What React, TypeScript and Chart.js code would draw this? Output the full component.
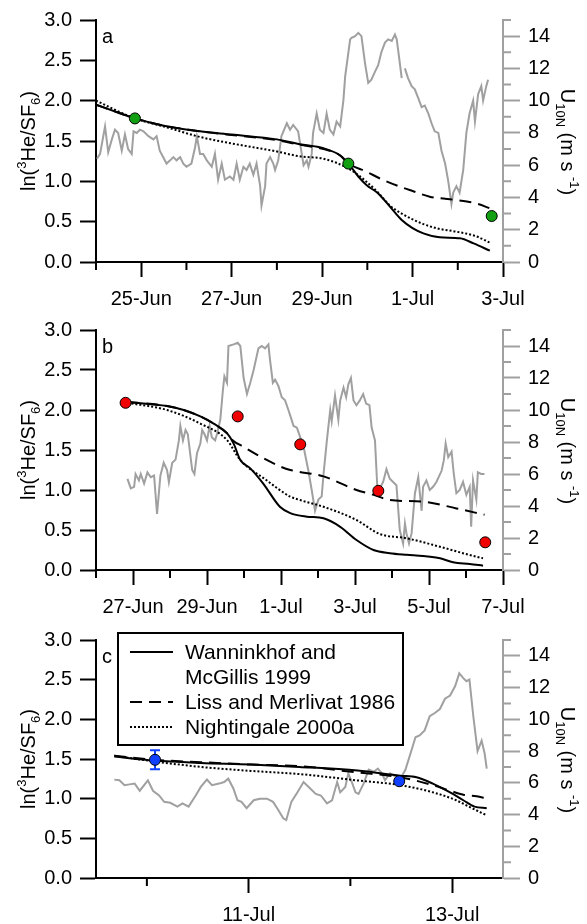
import React, { useEffect, useRef } from 'react';
import { Chart, registerables } from 'chart.js';
Chart.register(...registerables);

const FONT = '"Liberation Sans", Arial, Helvetica, sans-serif';
const WIND_COLOR = '#a0a0a0';

// ---------- shared axis values ----------
const leftTickVals = [0, 0.5, 1, 1.5, 2, 2.5, 3];
const rightTickVals = [0, 2, 4, 6, 8, 10, 12, 14];
const rightMinorVals = [1, 3, 5, 7, 9, 11, 13, 15];
const legendLabels = ['Wanninkhof and', 'McGillis 1999', 'Liss and Merlivat 1986', 'Nightingale 2000a'];

// x values are days counted from 0-Jun (1-Jul = 31, 10-Jul = 40)
// ---------- panel a ----------
const aTickDays = [25, 27, 29, 31, 33];
const aTickLabels = ['25-Jun', '27-Jun', '29-Jun', '1-Jul', '3-Jul'];
const aMinorDays = [24, 26, 28, 30, 32];
const aWindDay = [24.02, 24.09, 24.2, 24.27, 24.35, 24.42, 24.49, 24.57, 24.64, 24.71, 24.79, 24.83, 24.9, 24.97, 25.05, 25.16, 25.27, 25.34, 25.41, 25.56, 25.64, 25.71, 25.78, 25.86, 25.93, 26.0, 26.11, 26.19, 26.23, 26.3, 26.37, 26.45, 26.56, 26.63, 26.7, 26.78, 26.85, 26.96, 27.04, 27.11, 27.18, 27.26, 27.33, 27.4, 27.48, 27.55, 27.63, 27.66, 27.74, 27.77, 27.85, 27.92, 27.96, 28.03, 28.1, 28.22, 28.29, 28.36, 28.47, 28.55, 28.59, 28.66, 28.7, 28.77, 28.8, 28.88, 28.95, 29.03, 29.1, 29.17, 29.25, 29.32, 29.4, 29.47, 29.51, 29.62, 29.65, 29.73, 29.8, 29.87, 29.95, 30.02, 30.09, 30.17, 30.24, 30.31, 30.39, 30.46, 30.54, 30.61, 30.65, 30.72, 30.76, 30.8, 30.83, 30.9, 30.98, 31.05, 31.12, 31.2, 31.27, 31.35, 31.42, 31.49, 31.57, 31.64, 31.72, 31.79, 31.86, 31.9, 31.97, 32.04, 32.12, 32.19, 32.26, 32.34, 32.38, 32.45, 32.52, 32.56, 32.63, 32.67];
const aWindSpeed = [6.4, 6.7, 8.4, 6.8, 7.6, 8.2, 8.0, 6.9, 7.9, 7.0, 6.7, 8.1, 8.0, 8.2, 8.1, 7.8, 7.6, 7.8, 6.9, 6.1, 6.3, 6.5, 6.3, 6.5, 6.1, 5.9, 6.1, 7.1, 7.8, 6.7, 6.7, 6.3, 5.9, 6.7, 5.1, 6.1, 5.1, 5.3, 5.1, 6.1, 5.1, 5.9, 5.7, 6.1, 5.4, 6.1, 4.7, 3.5, 4.7, 6.1, 6.5, 6.1, 5.7, 6.3, 7.8, 8.6, 8.2, 8.5, 8.1, 6.7, 6.0, 6.3, 5.9, 6.7, 8.0, 9.2, 8.2, 8.0, 9.2, 8.2, 7.9, 8.7, 8.4, 10.0, 11.5, 13.8, 13.9, 14.0, 14.2, 14.0, 12.3, 11.1, 11.3, 11.8, 12.2, 13.0, 13.6, 13.8, 13.7, 14.1, 13.8, 12.3, 11.4, null, 12.0, 11.4, 10.9, 10.7, 10.2, 9.6, 9.7, 9.2, 8.6, 8.1, 8.0, 6.9, 6.1, 5.0, 3.6, 4.3, 4.7, 4.3, 5.7, 8.0, 9.2, 10.0, 8.7, 10.4, 10.9, 10.0, 10.9, 11.3];
const aWmDay = [24.0, 24.5, 24.86, 25.5, 26.3, 27.0, 28.0, 28.5, 29.03, 29.4, 29.58, 29.8, 29.98, 30.24, 30.5, 30.76, 31.0, 31.24, 31.6, 32.05, 32.35, 32.71];
const aWmVal = [1.95, 1.85, 1.78, 1.69, 1.62, 1.58, 1.52, 1.46, 1.41, 1.32, 1.22, 1.06, 0.955, 0.85, 0.686, 0.52, 0.42, 0.355, 0.306, 0.293, 0.23, 0.14];
const aLmDay = [24.0, 24.5, 24.86, 25.5, 26.3, 27.0, 28.0, 28.5, 29.03, 29.4, 29.58, 29.98, 30.3, 30.72, 31.0, 31.38, 31.83, 32.2, 32.45, 32.71];
const aLmVal = [1.95, 1.85, 1.78, 1.69, 1.62, 1.575, 1.51, 1.455, 1.40, 1.32, 1.22, 1.12, 1.03, 0.934, 0.88, 0.81, 0.777, 0.75, 0.72, 0.665];
const aNgDay = [24.0, 24.86, 25.5, 26.3, 27.0, 28.0, 28.5, 29.03, 29.58, 29.98, 30.24, 30.5, 30.76, 31.24, 31.6, 31.97, 32.4, 32.71];
const aNgVal = [2.0, 1.78, 1.68, 1.55, 1.47, 1.37, 1.31, 1.28, 1.16, 0.996, 0.86, 0.7, 0.6, 0.47, 0.41, 0.376, 0.32, 0.24];
const aPtDay = [24.86, 29.58, 32.75];
const aPtVal = [1.78, 1.22, 0.57];

// ---------- panel b ----------
const bTickDays = [27, 29, 31, 33, 35, 37];
const bTickLabels = ['27-Jun', '29-Jun', '1-Jul', '3-Jul', '5-Jul', '7-Jul'];
const bMinorDays = [26, 28, 30, 32, 34, 36];
const bWindDay = [26.85, 26.94, 27.03, 27.07, 27.16, 27.21, 27.3, 27.39, 27.48, 27.57, 27.65, 27.74, 27.83, 27.92, 27.97, 28.06, 28.15, 28.24, 28.28, 28.35, 28.42, 28.48, 28.6, 28.66, 28.73, 28.82, 28.87, 28.93, 29.0, 29.07, 29.13, 29.22, 29.27, 29.36, 29.43, 29.47, 29.54, 29.58, 29.72, 29.83, 29.9, 29.99, 30.08, 30.17, 30.26, 30.39, 30.48, 30.57, 30.66, 30.7, 30.78, 30.84, 30.93, 31.02, 31.11, 31.2, 31.25, 31.34, 31.43, 31.61, 31.74, 31.83, 31.92, 32.01, 32.1, 32.15, 32.24, 32.33, 32.37, 32.46, 32.55, 32.6, 32.69, 32.76, 32.82, 32.89, 32.96, 33.04, 33.13, 33.22, 33.3, 33.39, 33.45, 33.54, 33.6, 33.67, 33.76, 33.85, 33.94, 34.03, 34.12, 34.21, 34.3, 34.35, 34.39, 34.46, 34.53, 34.62, 34.71, 34.8, 34.84, 34.93, 35.02, 35.11, 35.2, 35.34, 35.4, 35.45, 35.52, 35.61, 35.67, 35.74, 35.83, 35.92, 36.01, 36.1, 36.14, 36.19, 36.28, 36.32, 36.41, 36.5];
const bWindSpeed = [5.7, 5.1, 5.2, 6.0, 5.6, 6.0, 5.4, 6.1, 5.8, 5.9, 3.5, 5.9, 6.7, 6.25, 5.5, 6.7, 6.9, 8.1, 9.0, 8.1, 8.75, 8.5, 6.25, 6.0, 7.3, 7.9, 8.75, 8.5, 8.1, 9.0, 8.3, 8.1, 8.5, 9.4, 11.25, 12.1, 11.7, 14.0, 14.1, 14.2, 14.0, 12.0, 11.0, 11.7, 12.5, 13.85, 14.0, 13.85, 14.1, 13.2, 11.7, 11.9, 11.5, 10.8, 10.6, 10.0, 9.65, 9.0, 8.9, 7.7, 6.2, 5.0, 3.7, 4.4, 4.6, 6.0, 8.1, 10.0, 9.3, 10.9, 9.4, 10.6, 11.4, 10.8, 11.6, 12.0, 10.6, 10.3, 10.6, 11.0, 10.4, 10.3, 8.9, 8.1, 5.3, 5.1, 5.5, 6.3, 5.7, 5.5, 5.3, 2.5, 1.66, 2.9, 2.3, 1.66, 2.3, 4.8, 5.8, 3.7, 5.2, 5.6, 5.0, 5.2, 5.5, 6.2, 6.85, 7.9, 7.05, 7.4, 6.0, 4.8, 5.0, 5.5, 4.7, 5.2, 2.7, 5.6, 4.4, 6.1, 6.0, 6.0];
const bWmDay = [26.85, 27.92, 28.37, 28.82, 29.18, 29.54, 29.72, 29.9, 30.17, 30.52, 30.97, 31.25, 31.7, 32.15, 32.6, 33.04, 33.5, 33.94, 34.4, 34.84, 35.3, 35.65, 36.1, 36.46];
const bWmVal = [2.10, 2.05, 2.0, 1.92, 1.83, 1.71, 1.58, 1.375, 1.27, 1.08, 0.79, 0.71, 0.667, 0.646, 0.54, 0.375, 0.25, 0.21, 0.19, 0.175, 0.146, 0.096, 0.075, 0.054];
const bLmDay = [26.85, 27.92, 28.37, 28.82, 29.18, 29.54, 29.7, 29.99, 30.43, 31.0, 31.25, 32.15, 33.04, 33.5, 33.94, 34.84, 35.74, 36.5];
const bLmVal = [2.10, 2.05, 2.0, 1.92, 1.83, 1.71, 1.62, 1.54, 1.42, 1.29, 1.25, 1.17, 1.0, 0.94, 0.875, 0.854, 0.77, 0.69];
const bNgDay = [26.85, 27.92, 28.82, 29.54, 29.9, 30.6, 31.25, 31.51, 32.15, 33.04, 33.67, 34.4, 35.3, 36.0, 36.46];
const bNgVal = [2.09, 2.0, 1.83, 1.625, 1.375, 1.125, 0.917, 0.875, 0.79, 0.625, 0.45, 0.396, 0.29, 0.2, 0.146];
const bPtDay = [26.8, 29.83, 31.52, 33.63, 36.52];
const bPtVal = [2.09, 1.92, 1.57, 0.99, 0.346];

// ---------- panel c ----------
const cTickDays = [41, 43];
const cTickLabels = ['11-Jul', '13-Jul'];
const cMinorDays = [40, 42];
const cWindDay = [39.68, 39.73, 39.78, 39.83, 39.88, 39.93, 40.01, 40.06, 40.12, 40.17, 40.23, 40.3, 40.35, 40.41, 40.48, 40.53, 40.59, 40.64, 40.71, 40.76, 40.8, 40.85, 40.89, 40.93, 40.98, 41.05, 41.11, 41.18, 41.24, 41.29, 41.34, 41.37, 41.42, 41.48, 41.54, 41.59, 41.66, 41.71, 41.77, 41.82, 41.87, 41.9, 41.95, 41.98, 42.02, 42.05, 42.08, 42.13, 42.18, 42.23, 42.27, 42.31, 42.34, 42.39, 42.44, 42.49, 42.54, 42.59, 42.64, 42.68, 42.73, 42.78, 42.83, 42.88, 42.93, 42.98, 43.03, 43.07, 43.11, 43.14, 43.17, 43.21, 43.25, 43.29, 43.32, 43.34];
const cWindSpeed = [6.2, 6.16, 5.85, 5.9, 5.95, 5.5, 6.16, 5.5, 5.2, 4.8, 4.74, 4.5, 4.7, 4.5, 5.2, 5.74, 6.2, 5.85, 5.95, 6.05, 6.26, 5.64, 4.9, 4.8, 4.4, 4.9, 5.0, 5.0, 4.8, 4.3, 3.76, 3.65, 4.8, 5.4, 6.05, 5.74, 5.3, 5.2, 4.7, 4.9, 6.05, 5.4, 5.74, 6.6, 5.95, 5.4, 5.3, 5.95, 6.83, 6.7, 6.9, 6.6, 6.16, 6.6, 6.4, 6.26, 6.8, 7.83, 8.87, 8.98, 9.3, 10.2, 10.4, 10.65, 11.3, 11.5, 12.1, 12.9, 12.6, 12.4, 12.5, 10.1, 8.0, 8.66, 7.83, 6.9];
const cWmDay = [39.68, 40.07, 40.53, 41.02, 41.5, 42.07, 42.49, 42.65, 42.81, 42.98, 43.11, 43.22, 43.34];
const cWmVal = [1.53, 1.48, 1.45, 1.43, 1.40, 1.354, 1.29, 1.27, 1.19, 1.08, 0.98, 0.90, 0.88];
const cLmDay = [39.68, 40.07, 40.53, 41.02, 41.5, 42.07, 42.49, 42.81, 42.98, 43.11, 43.24, 43.34];
const cLmVal = [1.54, 1.49, 1.46, 1.43, 1.41, 1.33, 1.27, 1.17, 1.10, 1.05, 1.03, 1.0];
const cNgDay = [39.68, 40.07, 40.53, 41.02, 41.5, 42.07, 42.49, 42.81, 43.04, 43.17, 43.34];
const cNgVal = [1.54, 1.47, 1.40, 1.35, 1.31, 1.23, 1.17, 1.08, 0.98, 0.896, 0.79];
const cPtDay = [40.08, 42.48];
const cPtVal = [1.49, 1.22];
const cPtErr = [0.12, 0];

type Panel = {
  letter: string; top: number; height: number; plotBottom: number;
  xMin: number; xMax: number; xMajor: number[]; xLabels: string[]; xMinor: number[];
  windDay: number[]; windSpeed: (number | null)[];
  wmDay: number[]; wmVal: number[]; lmDay: number[]; lmVal: number[]; ngDay: number[]; ngVal: number[];
  ptDay: number[]; ptVal: number[]; ptErr?: number[]; ptColor: string; legend: boolean;
};

const panels: Panel[] = [
  { letter: 'a', top: 0, height: 310, plotBottom: 262, xMin: 24, xMax: 33, xMajor: aTickDays, xLabels: aTickLabels, xMinor: aMinorDays,
    windDay: aWindDay, windSpeed: aWindSpeed, wmDay: aWmDay, wmVal: aWmVal, lmDay: aLmDay, lmVal: aLmVal, ngDay: aNgDay, ngVal: aNgVal,
    ptDay: aPtDay, ptVal: aPtVal, ptColor: '#12a012', legend: false },
  { letter: 'b', top: 310, height: 310, plotBottom: 260, xMin: 26, xMax: 37, xMajor: bTickDays, xLabels: bTickLabels, xMinor: bMinorDays,
    windDay: bWindDay, windSpeed: bWindSpeed, wmDay: bWmDay, wmVal: bWmVal, lmDay: bLmDay, lmVal: bLmVal, ngDay: bNgDay, ngVal: bNgVal,
    ptDay: bPtDay, ptVal: bPtVal, ptColor: '#f00000', legend: false },
  { letter: 'c', top: 620, height: 304, plotBottom: 258, xMin: 39.5, xMax: 43.5, xMajor: cTickDays, xLabels: cTickLabels, xMinor: cMinorDays,
    windDay: cWindDay, windSpeed: cWindSpeed, wmDay: cWmDay, wmVal: cWmVal, lmDay: cLmDay, lmVal: cLmVal, ngDay: cNgDay, ngVal: cNgVal,
    ptDay: cPtDay, ptVal: cPtVal, ptErr: cPtErr, ptColor: '#1040ff', legend: true },
];

type Seg = { t: string; k?: 'sup' | 'sub' };
const SIZE = 20;
const LEGEND_SIZE = 21;

function segFont(k?: string) {
  return `${k ? Math.round(SIZE * 0.65) : SIZE}px ${FONT}`;
}
function richWidth(ctx: CanvasRenderingContext2D, segs: Seg[]) {
  let w = 0;
  for (const s of segs) { ctx.font = segFont(s.k); w += ctx.measureText(s.t).width; }
  return w;
}
function drawRich(ctx: CanvasRenderingContext2D, segs: Seg[], x0: number) {
  let x = x0;
  for (const s of segs) {
    ctx.font = segFont(s.k);
    const dy = s.k === 'sup' ? -SIZE * 0.45 : s.k === 'sub' ? SIZE * 0.25 : 0;
    ctx.fillText(s.t, x, dy);
    x += ctx.measureText(s.t).width;
  }
}

const leftTitle: Seg[] = [{ t: 'ln(' }, { t: '3', k: 'sup' }, { t: 'He/SF' }, { t: '6', k: 'sub' }, { t: ')' }];
const rightTitle: Seg[] = [{ t: 'U' }, { t: '10N', k: 'sub' }, { t: ' (m s ' }, { t: '-1', k: 'sup' }, { t: ')' }];

function makeExtras(p: Panel) {
  return {
    id: 'extras_' + p.letter,
    beforeDatasetsDraw(chart: any) {
      if (!p.ptErr) return;
      const { ctx } = chart;
      const x = chart.scales.x, y = chart.scales.y;
      ctx.save();
      ctx.strokeStyle = p.ptColor;
      ctx.lineWidth = 2;
      p.ptDay.forEach((d, i) => {
        const e = p.ptErr![i];
        if (!e) return;
        const px = x.getPixelForValue(d);
        const y1 = y.getPixelForValue(p.ptVal[i] + e);
        const y2 = y.getPixelForValue(p.ptVal[i] - e);
        ctx.beginPath();
        ctx.moveTo(px, y1); ctx.lineTo(px, y2);
        ctx.moveTo(px - 5, y1); ctx.lineTo(px + 5, y1);
        ctx.moveTo(px - 5, y2); ctx.lineTo(px + 5, y2);
        ctx.stroke();
      });
      ctx.restore();
    },
    afterDraw(chart: any) {
      const { ctx, chartArea: ca } = chart;
      const x = chart.scales.x, y1 = chart.scales.y1;
      ctx.save();
      // minor ticks
      ctx.lineWidth = 2;
      ctx.strokeStyle = '#000';
      ctx.beginPath();
      for (const v of p.xMinor) {
        const px = x.getPixelForValue(v);
        ctx.moveTo(px, ca.bottom); ctx.lineTo(px, ca.bottom + 8);
      }
      ctx.stroke();
      ctx.strokeStyle = WIND_COLOR;
      ctx.beginPath();
      for (const v of rightMinorVals) {
        const py = y1.getPixelForValue(v);
        ctx.moveTo(ca.right, py); ctx.lineTo(ca.right + 8, py);
      }
      ctx.stroke();
      // panel letter
      ctx.fillStyle = '#000';
      ctx.font = `${SIZE}px ${FONT}`;
      ctx.textBaseline = 'alphabetic';
      ctx.textAlign = 'left';
      ctx.fillText(p.letter, ca.left + 6, ca.top + 23);
      // axis titles
      const cy = (ca.top + ca.bottom) / 2;
      ctx.save();
      ctx.translate(35, cy);
      ctx.rotate(-Math.PI / 2);
      drawRich(ctx, leftTitle, -richWidth(ctx, leftTitle) / 2);
      ctx.restore();
      ctx.save();
      ctx.translate(ca.right + 58, cy + 1);
      ctx.rotate(Math.PI / 2);
      drawRich(ctx, rightTitle, -richWidth(ctx, rightTitle) / 2);
      ctx.restore();
      // legend
      if (p.legend) {
        const bx = ca.left + 22, by = ca.top - 7, bw = 285, bh = 112;
        ctx.fillStyle = '#fff';
        ctx.fillRect(bx, by, bw, bh);
        ctx.strokeStyle = '#000';
        ctx.lineWidth = 2;
        ctx.strokeRect(bx, by, bw, bh);
        const rows = [19, 44, 69, 94];
        const dashes: (number[] | null)[] = [[], null, [12, 7], [2, 2]];
        ctx.font = `${LEGEND_SIZE}px ${FONT}`;
        ctx.fillStyle = '#000';
        ctx.textBaseline = 'middle';
        legendLabels.forEach((lab, i) => {
          const ry = by + rows[i];
          const d = dashes[i];
          if (d) {
            ctx.setLineDash(d);
            ctx.beginPath();
            ctx.moveTo(bx + 12, ry); ctx.lineTo(bx + 55, ry);
            ctx.stroke();
            ctx.setLineDash([]);
          }
          ctx.fillText(lab, bx + 67, ry + 1);
        });
      }
      ctx.restore();
    },
  };
}

function toXY(xs: number[], ys: (number | null)[]) {
  return xs.map((v, i) => ({ x: v, y: ys[i] }));
}

function PanelChart({ p }: { p: Panel }) {
  const ref = useRef<HTMLCanvasElement | null>(null);
  useEffect(() => {
    if (!ref.current) return;
    const font = { family: FONT, size: SIZE };
    const modelBase = { borderColor: '#000', borderWidth: 2, pointRadius: 0, cubicInterpolationMode: 'monotone' as const, yAxisID: 'y' };
    const chart = new Chart(ref.current, {
      type: 'line',
      data: {
        datasets: [
          {
            label: 'points', data: toXY(p.ptDay, p.ptVal), showLine: false, pointRadius: 5.5,
            pointBackgroundColor: p.ptColor, pointBorderColor: '#000', pointBorderWidth: 1, order: 0, yAxisID: 'y',
          } as any,
          { ...modelBase, label: legendLabels[0] + ' ' + legendLabels[1], data: toXY(p.wmDay, p.wmVal), order: 1 },
          { ...modelBase, label: legendLabels[2], data: toXY(p.lmDay, p.lmVal), borderDash: [12, 7], order: 2 },
          { ...modelBase, label: legendLabels[3], data: toXY(p.ngDay, p.ngVal), borderDash: [2, 2], order: 3 },
          {
            label: 'U10N', data: toXY(p.windDay, p.windSpeed), borderColor: WIND_COLOR, borderWidth: 2,
            pointRadius: 0, spanGaps: false, tension: 0, yAxisID: 'y1', order: 5,
          },
        ],
      },
      options: {
        responsive: false,
        animation: false,
        events: [],
        layout: { padding: { top: 20, left: 0, right: 0, bottom: 0 } },
        plugins: { legend: { display: false }, tooltip: { enabled: false }, title: { display: false } },
        scales: {
          x: {
            type: 'linear', min: p.xMin, max: p.xMax,
            border: { display: true, color: '#000', width: 2 },
            grid: { display: true, drawOnChartArea: false, drawTicks: true, tickLength: 15, tickWidth: 2, tickColor: '#000' },
            ticks: { color: '#000', font, padding: 10, autoSkip: false, maxRotation: 0, minRotation: 0,
              callback: (_v: any, i: number) => p.xLabels[i] },
            afterBuildTicks: (s: any) => { s.ticks = p.xMajor.map((v) => ({ value: v })); },
            afterFit: (s: any) => { s.height = p.height - p.plotBottom; },
          },
          y: {
            type: 'linear', position: 'left', min: 0, max: 3,
            border: { display: true, color: '#000', width: 2 },
            grid: { display: true, drawOnChartArea: false, drawTicks: true, tickLength: 16, tickWidth: 2, tickColor: '#000' },
            ticks: { color: '#000', font, padding: 8, callback: (v: any) => Number(v).toFixed(1) },
            afterBuildTicks: (s: any) => { s.ticks = leftTickVals.map((v) => ({ value: v })); },
            afterFit: (s: any) => { s.width = 96; },
          },
          y1: {
            type: 'linear', position: 'right', min: 0, max: 15,
            border: { display: true, color: WIND_COLOR, width: 2 },
            grid: { display: true, drawOnChartArea: false, drawTicks: true, tickLength: 17, tickWidth: 2, tickColor: WIND_COLOR },
            ticks: { color: '#000', font, padding: 8, callback: (v: any) => String(v) },
            afterBuildTicks: (s: any) => { s.ticks = rightTickVals.map((v) => ({ value: v })); },
            afterFit: (s: any) => { s.width = 84; },
          },
        },
      } as any,
      plugins: [makeExtras(p)],
    });
    return () => chart.destroy();
  }, [p]);
  return (
    <canvas
      ref={ref}
      width={587}
      height={p.height}
      style={{ position: 'absolute', left: 0, top: p.top, width: 587, height: p.height }}
    />
  );
}

export default function App() {
  return (
    <div style={{ position: 'fixed', left: 0, top: 0, width: 587, height: 924, background: '#fff', overflow: 'hidden' }}>
      {panels.map((p) => (
        <PanelChart key={p.letter} p={p} />
      ))}
    </div>
  );
}
